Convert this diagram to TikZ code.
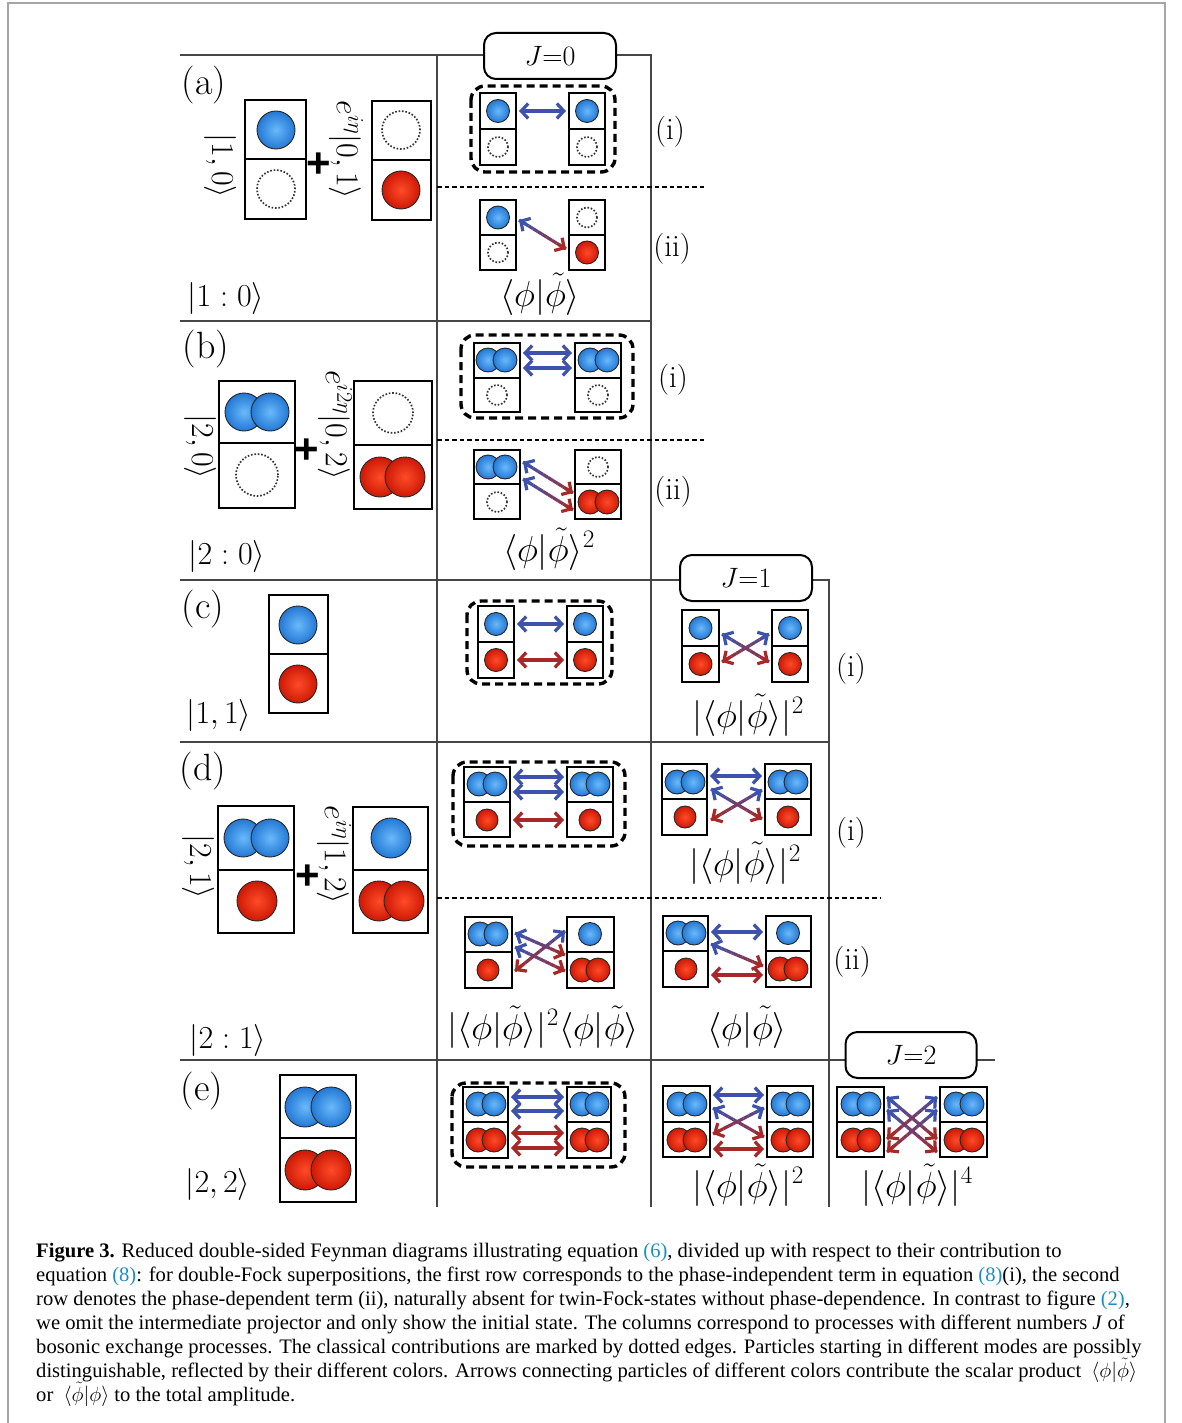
\RequirePackage{fix-cm}
\documentclass[tikz,border=0pt]{standalone}
\usepackage{fontspec}
\newfontfamily\capfont{Liberation Serif}
\newfontfamily\plusfont{Liberation Sans}
\usetikzlibrary{arrows.meta,calc,fit}
\definecolor{bL}{RGB}{105,185,250}
\definecolor{bD}{RGB}{35,120,212}
\definecolor{rL}{RGB}{255,75,40}
\definecolor{rD}{RGB}{205,25,5}
\definecolor{arB}{RGB}{60,82,172}
\definecolor{arR}{RGB}{168,40,40}
\definecolor{refc}{RGB}{30,140,200}
\definecolor{gridc}{RGB}{70,70,70}
\tikzset{
  cellbox/.style={draw=black, line width=2.3pt, inner sep=0pt, outer sep=0pt},
  ballB/.style={shade, inner color=bL, outer color=bD, draw=black!85, line width=0.9pt},
  ballR/.style={shade, inner color=rL, outer color=rD, draw=black!85, line width=0.9pt},
  ghost/.style={draw=black!80, line width=1.7pt, dash pattern=on 1.6pt off 1.8pt},
  tline/.style={draw=gridc, line width=1.2pt},
  sepline/.style={draw=black, line width=1.6pt, dash pattern=on 4.5pt off 3pt},
  classic/.style={draw=black, line width=3.4pt, dash pattern=on 8pt off 5pt, rounded corners=14pt},
  jbox/.style={draw=black, fill=white, line width=2pt, rounded corners=12pt, inner sep=0pt,
    minimum width=132pt, minimum height=46pt, font=\fontsize{28}{32}\selectfont},
  harr/.style={line width=3.2pt, {Straight Barb[length=7pt,width=15pt]}-{Straight Barb[length=7pt,width=15pt]}},
  lab/.style={inner sep=0pt, font=\fontsize{38}{44}\selectfont},
  st/.style={inner sep=0pt, font=\fontsize{32}{38}\selectfont},
  rn/.style={inner sep=0pt, font=\fontsize{31}{36}\selectfont},
  prod/.style={inner sep=0pt, anchor=base, font=\fontsize{36}{42}\selectfont},
  plus/.style={inner sep=0pt, font=\plusfont\bfseries\fontsize{42}{42}\selectfont},
  capl/.style={inner sep=0pt, anchor=base west, font=\capfont\fontsize{20.6}{24}\selectfont},
}
\newcommand\twocell[6]{%
  \node[cellbox, fit={(#2,#4)(#3,#5)}] (#1t) {};
  \node[cellbox, fit={(#2,#5)(#3,#6)}] (#1b) {};}
\newcommand\bB[3]{\path[ballB] (#1,#2) circle[radius=#3pt];}
\newcommand\bR[3]{\path[ballR] (#1,#2) circle[radius=#3pt];}
\newcommand\bG[3]{\path[ghost] (#1,#2) circle[radius=#3pt];}
\newcommand\hArr[4]{%
  \coordinate (hs) at (#2,#4); \coordinate (he) at (#3,#4);
  \draw[harr, color=#1] (hs) -- (he);}
\newcommand\gArr[6]{%
  \coordinate (gs) at (#1,#2); \coordinate (ge) at (#3,#4);
  \foreach \k in {0,...,9}{\draw[line width=3.2pt, color=#6!\k0!#5] ($(gs)!{\k/10}!(ge)$) -- ($(gs)!{(\k+1)/10}!(ge)$);}
  \draw[line width=3.2pt, color=#5, {Straight Barb[length=7pt,width=15pt]}-] (gs) -- ($(gs)!0.15!(ge)$);
  \draw[line width=3.2pt, color=#6, -{Straight Barb[length=7pt,width=15pt]}] ($(gs)!0.85!(ge)$) -- (ge);}
\newcommand\ph{\langle\phi|\tilde{\phi}\rangle}
\begin{document}
\begin{tikzpicture}[x=1pt,y=-1pt]
\useasboundingbox (0,0) rectangle (1182,1423);
% frame
\draw[gray!70, line width=2pt] (8,1423) -- (8,3) -- (1165,3) -- (1165,1423);
% table
\draw[tline] (180,55) -- (651,55) -- (651,1207);
\draw[tline] (437,55) -- (437,1207);
\draw[tline] (180,321) -- (651,321);
\draw[tline] (180,580) -- (829,580) -- (829,1207);
\draw[tline] (180,742) -- (829,742);
\draw[tline] (180,1060) -- (995,1060);
\draw[sepline] (437,187) -- (705,187);
\draw[sepline] (437,440) -- (705,440);
\draw[sepline] (437,898) -- (880,898);
% J boxes
\node[jbox] (J0) at (550,56) {$J{=}0$};
\node[jbox] (J1) at (746,578) {$J{=}1$};
\node[jbox, minimum width=131pt] (J2) at (911,1055) {$J{=}2$};
% row labels
\node[lab] (la) at (204,85) {(a)};
\node[lab] (lb) at (206,349) {(b)};
\node[lab] (lc) at (203,609) {(c)};
\node[lab] (ld) at (203,771) {(d)};
\node[lab] (le) at (202,1091) {(e)};
\node[st] (sa) at (226,298) {$|1:0\rangle$};
\node[st] (sb) at (227,556) {$|2:0\rangle$};
\node[st] (sc) at (219,715) {$|1,1\rangle$};
\node[st] (sd) at (228,1040) {$|2:1\rangle$};
\node[st] (se) at (218,1184) {$|2,2\rangle$};
\node[st, rotate=-90] (ra1) at (220,166) {$|1,0\rangle$};
\node[st, rotate=-90] (ra2) at (346,150) {$e^{i\eta}|0,1\rangle$};
\node[st, rotate=-90] (rb1) at (200,447) {$|2,0\rangle$};
\node[st, rotate=-90] (rb2) at (335,425) {$e^{i2\eta}|0,2\rangle$};
\node[st, rotate=-90] (rd1) at (198,867) {$|2,1\rangle$};
\node[st, rotate=-90] (rd2) at (334,855) {$e^{i\eta}|1,2\rangle$};
\node[plus] (pla) at (319,165) {+};
\node[plus] (plb) at (307,451) {+};
\node[plus] (pld) at (308,877) {+};
% big boxes
\twocell{A1}{245}{306}{100}{159}{219}
\bB{276}{130}{19}\bG{276}{189}{19}
\twocell{A2}{372}{431}{101}{160}{220}
\bG{401}{130}{19}\bR{401}{190}{19}
\twocell{B1}{219}{295}{381}{443}{508}
\bB{244}{412}{19}\bB{270}{412}{19}\bG{257}{475}{21}
\twocell{B2}{354}{432}{381}{445}{509}
\bG{393}{413}{20}\bR{380}{477}{20}\bR{405}{477}{20}
\twocell{C1}{269}{328}{595}{654}{713}
\bB{298}{625}{19}\bR{298}{684}{19}
\twocell{D1}{218}{294}{806}{870}{933}
\bB{243}{838}{19}\bB{270}{838}{19}\bR{257}{901}{20}
\twocell{D2}{353}{428}{807}{870}{933}
\bB{391}{838}{20}\bR{379}{901}{20}\bR{404}{901}{20}
\twocell{E1}{280}{356}{1075}{1138}{1202}
\bB{305}{1107}{20}\bB{331}{1107}{20}\bR{305}{1170}{20}\bR{331}{1170}{20}
% ---- row a
\draw[classic] (471,86) rectangle (615,172);
\twocell{a1L}{480}{516}{93}{129}{165}\twocell{a1R}{569}{605}{93}{129}{165}
\bB{498}{111}{11.5}\bG{498}{147}{10}\bB{587}{111}{11.5}\bG{587}{147}{10}
\hArr{arB}{519}{566}{111}
\twocell{a2L}{480}{516}{200}{235}{270}\twocell{a2R}{569}{605}{200}{235}{270}
\bB{498}{217.5}{11.5}\bG{498}{252.5}{10}\bG{587}{217.5}{10}\bR{587}{252.5}{11.5}
\gArr{519}{220}{566}{249}{arB}{arR}
\node[rn] (ia) at (670,132) {(i)};
\node[rn] (iia) at (672,249) {(ii)};
\node[prod] (pa) at (540,306) {$\ph$};
% ---- row b
\draw[classic] (461,335) rectangle (633,418);
\twocell{b1L}{474}{520}{343}{378}{412}\twocell{b1R}{575}{621}{343}{378}{412}
\bB{488}{360}{12}\bB{505}{360}{12}\bG{497}{395}{10}
\bB{590}{360}{12}\bB{607}{360}{12}\bG{598}{395}{10}
\hArr{arB}{523}{572}{353}\hArr{arB}{523}{572}{368}
\twocell{b2L}{474}{520}{450}{484}{519}\twocell{b2R}{575}{621}{450}{484}{519}
\bB{488}{467}{12}\bB{505}{467}{12}\bG{497}{502}{10}
\bG{598}{467}{10}\bR{590}{502}{12}\bR{607}{502}{12}
\gArr{523}{462}{573}{493}{arB}{arR}\gArr{523}{479}{573}{510}{arB}{arR}
\node[rn] (ib) at (673,380) {(i)};
\node[rn] (iib) at (673,492) {(ii)};
\node[prod] (pb) at (549,561) {$\ph^2$};
% ---- row c
\draw[classic] (467,601) rectangle (612,684);
\twocell{c1L}{478}{514}{606}{642}{678}\twocell{c1R}{567}{603}{606}{642}{678}
\bB{496}{624}{11.5}\bR{496}{660}{11.5}\bB{585}{624}{11.5}\bR{585}{660}{11.5}
\hArr{arB}{517}{564}{624}\hArr{arR}{517}{564}{660}
\twocell{c2L}{682}{719}{610}{646}{682}\twocell{c2R}{772}{808}{610}{646}{682}
\bB{700.5}{628}{11.5}\bR{700.5}{664}{11.5}\bB{790}{628}{11.5}\bR{790}{664}{11.5}
\gArr{722}{634}{769}{662}{arB}{arR}\gArr{722}{662}{769}{634}{arR}{arB}
\node[prod] (pc) at (748,727) {$|\ph|^2$};
\node[rn] (ic) at (851,669) {(i)};
% ---- row d
\draw[classic] (453,762) rectangle (625,846);
\twocell{d1L}{464}{510}{767}{802}{837}\twocell{d1R}{567}{613}{767}{802}{837}
\bB{479}{784}{12}\bB{495}{784}{12}\bR{487}{820}{11}
\bB{582}{784}{12}\bB{598}{784}{12}\bR{590}{820}{11}
\hArr{arB}{513}{564}{777}\hArr{arB}{513}{564}{792}\hArr{arR}{513}{564}{820}
\twocell{d2L}{662}{707}{764}{799}{835}\twocell{d2R}{765}{811}{764}{799}{835}
\bB{677}{782}{12}\bB{693}{782}{12}\bR{685}{817}{11}
\bB{780}{782}{12}\bB{796}{782}{12}\bR{788}{817}{11}
\hArr{arB}{710}{762}{776}
\gArr{711}{789}{762}{819}{arB}{arR}\gArr{711}{820}{762}{790}{arR}{arB}
\node[prod] (pd1) at (745,875) {$|\ph|^2$};
\node[rn] (id) at (851,833) {(i)};
\twocell{d3L}{465}{512}{917}{952}{988}\twocell{d3R}{567}{614}{917}{952}{988}
\bB{480}{934}{12}\bB{496}{934}{12}\bR{488}{970}{11}
\bB{590}{934}{11.5}\bR{582}{970}{12}\bR{598}{970}{12}
\gArr{515}{933}{565}{955}{arB}{arR}\gArr{515}{947}{565}{971}{arB}{arR}
\gArr{515}{971}{565}{931}{arR}{arB}
\twocell{d4L}{663}{708}{916}{951}{987}\twocell{d4R}{766}{811}{916}{951}{987}
\bB{678}{933}{12}\bB{694}{933}{12}\bR{686}{969}{11}
\bB{788}{933}{11.5}\bR{780}{969}{12}\bR{796}{969}{12}
\hArr{arB}{711}{763}{932}\gArr{711}{944}{763}{966}{arB}{arR}\hArr{arR}{711}{763}{975}
\node[prod] (pd2) at (543,1039) {$|\ph|^2\ph$};
\node[prod] (pd3) at (747,1039) {$\ph$};
\node[rn] (iid) at (852,962) {(ii)};
% ---- row e
\draw[classic] (452,1083) rectangle (625,1167);
\twocell{e1L}{463}{508}{1087}{1122}{1158}\twocell{e1R}{567}{611}{1087}{1122}{1158}
\bB{478}{1104}{12}\bB{494}{1104}{12}\bR{478}{1140}{12}\bR{494}{1140}{12}
\bB{582}{1104}{12}\bB{597}{1104}{12}\bR{582}{1140}{12}\bR{597}{1140}{12}
\hArr{arB}{511}{564}{1097}\hArr{arB}{511}{564}{1111}\hArr{arR}{511}{564}{1133}\hArr{arR}{511}{564}{1148}
\twocell{e2L}{663}{710}{1086}{1122}{1157}\twocell{e2R}{767}{813}{1086}{1122}{1157}
\bB{679}{1104}{12}\bB{695}{1104}{12}\bR{679}{1140}{12}\bR{695}{1140}{12}
\bB{783}{1104}{12}\bB{798}{1104}{12}\bR{783}{1140}{12}\bR{798}{1140}{12}
\hArr{arB}{713}{764}{1095}
\gArr{713}{1108}{764}{1137}{arB}{arR}\gArr{713}{1134}{764}{1108}{arR}{arB}
\hArr{arR}{713}{764}{1149}
\twocell{e3L}{837}{884}{1087}{1122}{1157}\twocell{e3R}{940}{987}{1087}{1122}{1157}
\bB{853}{1104}{12}\bB{869}{1104}{12}\bR{853}{1140}{12}\bR{869}{1140}{12}
\bB{956}{1104}{12}\bB{972}{1104}{12}\bR{956}{1140}{12}\bR{972}{1140}{12}
\gArr{887}{1097}{937}{1139}{arB}{arR}\gArr{887}{1110}{937}{1152}{arB}{arR}
\gArr{887}{1139}{937}{1097}{arR}{arB}\gArr{887}{1152}{937}{1110}{arR}{arB}
\node[prod] (pe1) at (748,1197) {$|\ph|^2$};
\node[prod] (pe2) at (917,1197) {$|\ph|^4$};
% caption
\node[capl] (c1) at (36,1257) {\textbf{Figure 3.} Reduced double-sided Feynman diagrams illustrating equation \textcolor{refc}{(6)}, divided up with respect to their contribution to};
\node[capl] (c2) at (36,1281) {equation \textcolor{refc}{(8)}: for double-Fock superpositions, the first row corresponds to the phase-independent term in equation \textcolor{refc}{(8)}(i), the second};
\node[capl] (c3) at (36,1305) {row denotes the phase-dependent term (ii), naturally absent for twin-Fock-states without phase-dependence. In contrast to figure \textcolor{refc}{(2)},};
\node[capl] (c4) at (36,1329) {we omit the intermediate projector and only show the initial state. The columns correspond to processes with different numbers \textit{J} of};
\node[capl] (c5) at (36,1353) {bosonic exchange processes. The classical contributions are marked by dotted edges. Particles starting in different modes are possibly};
\node[capl] (c6) at (36,1377) {distinguishable, reflected by their different colors. Arrows connecting particles of different colors contribute the scalar product \ \smash{$\langle\phi|\tilde{\phi}\rangle$}};
\node[capl] (c7) at (36,1401) {or \ \smash{$\langle\tilde{\phi}|\phi\rangle$} to the total amplitude.};
\end{tikzpicture}
\end{document}
